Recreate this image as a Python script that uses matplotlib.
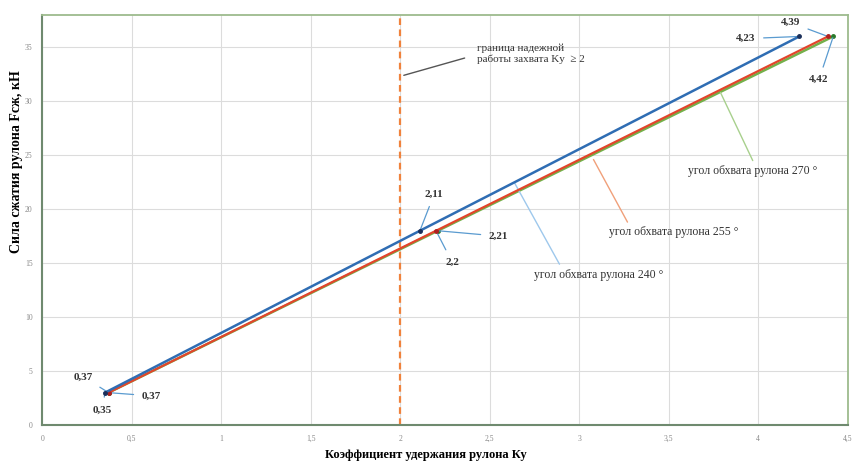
import matplotlib
matplotlib.use("Agg")
import matplotlib.pyplot as plt
import numpy as np

# data
ky_240 = [0.35, 2.11, 4.23]
ky_255 = [0.37, 2.20, 4.39]
ky_270 = [0.37, 2.21, 4.42]
force = [3, 18, 36]
ky_limit = 2

plt.rcParams['font.family'] = ['Liberation Serif', 'DejaVu Serif']

fig = plt.figure(figsize=(8.64, 4.65), dpi=100)
ax = fig.add_axes([0.049, 0.086, 0.932, 0.882])

c_blue = "#2f6db3"
c_red = "#e2452b"
c_green = "#74b04a"

ax.plot(ky_270, force, color=c_green, lw=1.8, marker="o", ms=2.5, mfc="#2a7a2a", mec="#2a7a2a", zorder=3)
ax.plot(ky_255, force, color=c_red, lw=1.6, marker="o", ms=2.5, mfc="#b02020", mec="#b02020", zorder=4)
ax.plot(ky_240, force, color=c_blue, lw=1.8, marker="o", ms=2.5, mfc="#1a2f5a", mec="#1a2f5a", zorder=5)

ax.axvline(ky_limit, color="#f0823c", lw=1.6, ls=(0, (3, 2)), zorder=2)

ax.set_xlim(0, 4.5)
ax.set_ylim(0, 38)
ax.set_xticks(np.arange(0, 4.51, 0.5))
ax.set_xticklabels(["0", "0,5", "1", "1,5", "2", "2,5", "3", "3,5", "4", "4,5"])
ax.set_yticks(np.arange(0, 36, 5))
ax.tick_params(labelsize=5.5, colors="#888888", length=0, pad=7)
ax.grid(True, color="#dcdcdc", lw=0.8)
ax.set_axisbelow(True)
for s in ["left", "bottom"]:
    ax.spines[s].set_color("#6f8a6f")
    ax.spines[s].set_linewidth(1.5)
for s in ["top", "right"]:
    ax.spines[s].set_color("#9dbb8d")
    ax.spines[s].set_linewidth(1.3)

ax.set_xlabel("Коэффициент удержания рулона Ку", fontsize=9, fontweight="bold")
ax.set_ylabel("Сила сжатия рулона Fсж, кН", fontsize=10, fontweight="bold")
ax.xaxis.set_label_coords(0.476, -0.058)
ax.yaxis.set_label_coords(-0.024, 0.643)

# boundary note
ax.annotate("", xy=(2.02, 32.4), xytext=(2.36, 34.0),
            arrowprops=dict(arrowstyle="-", color="#555555", lw=1, shrinkA=0, shrinkB=0))
ax.text(2.43, 34.4, "граница надежной\nработы захвата Ky  ≥ 2", fontsize=8, color="#333333",
        va="center", ha="left", linespacing=1.1)

# series captions: (text, point on line, leader end, text position, leader colour)
captions = [
    ("угол обхвата рулона 270 °", (3.79, 30.8), (3.97, 24.5), (3.97, 23.5), "#a8d08d"),
    ("угол обхвата рулона 255 °", (3.08, 24.6), (3.27, 18.8), (3.53, 17.9), "#f0a07a"),
    ("угол обхвата рулона 240 °", (2.64, 22.4), (2.89, 14.9), (3.11, 13.9), "#9ec8ec"),
]
for t, xy, end, pos, c in captions:
    ax.annotate("", xy=xy, xytext=end,
                arrowprops=dict(arrowstyle="-", color=c, lw=1, shrinkA=0, shrinkB=0))
    ax.text(pos[0], pos[1], t, fontsize=8.5, color="#333333", ha="center", va="center")

# point value labels
lead = dict(arrowstyle="-", color="#5a9bd0", lw=0.9, shrinkA=4, shrinkB=1)
labels = [
    ("0,37", (ky_255[0], force[0]), (0.23, 4.45)),
    ("0,37", (ky_270[0], force[0]), (0.61, 2.7)),
    ("0,35", (ky_240[0], force[0]), (0.335, 1.4)),
    ("2,11", (ky_240[1], force[1]), (2.19, 21.4)),
    ("2,21", (ky_270[1], force[1]), (2.55, 17.5)),
    ("2,2", (ky_255[1], force[1]), (2.29, 15.1)),
    ("4,23", (ky_240[2], force[2]), (3.93, 35.8)),
    ("4,39", (ky_255[2], force[2]), (4.18, 37.3)),
    ("4,42", (ky_270[2], force[2]), (4.34, 32.0)),
]
for t, xy, xyt in labels:
    ax.annotate(t, xy=xy, xytext=xyt, ha="center", va="center", fontsize=8,
                fontweight="bold", color="#333333", arrowprops=lead)

fig.savefig("out.png", dpi=100)
